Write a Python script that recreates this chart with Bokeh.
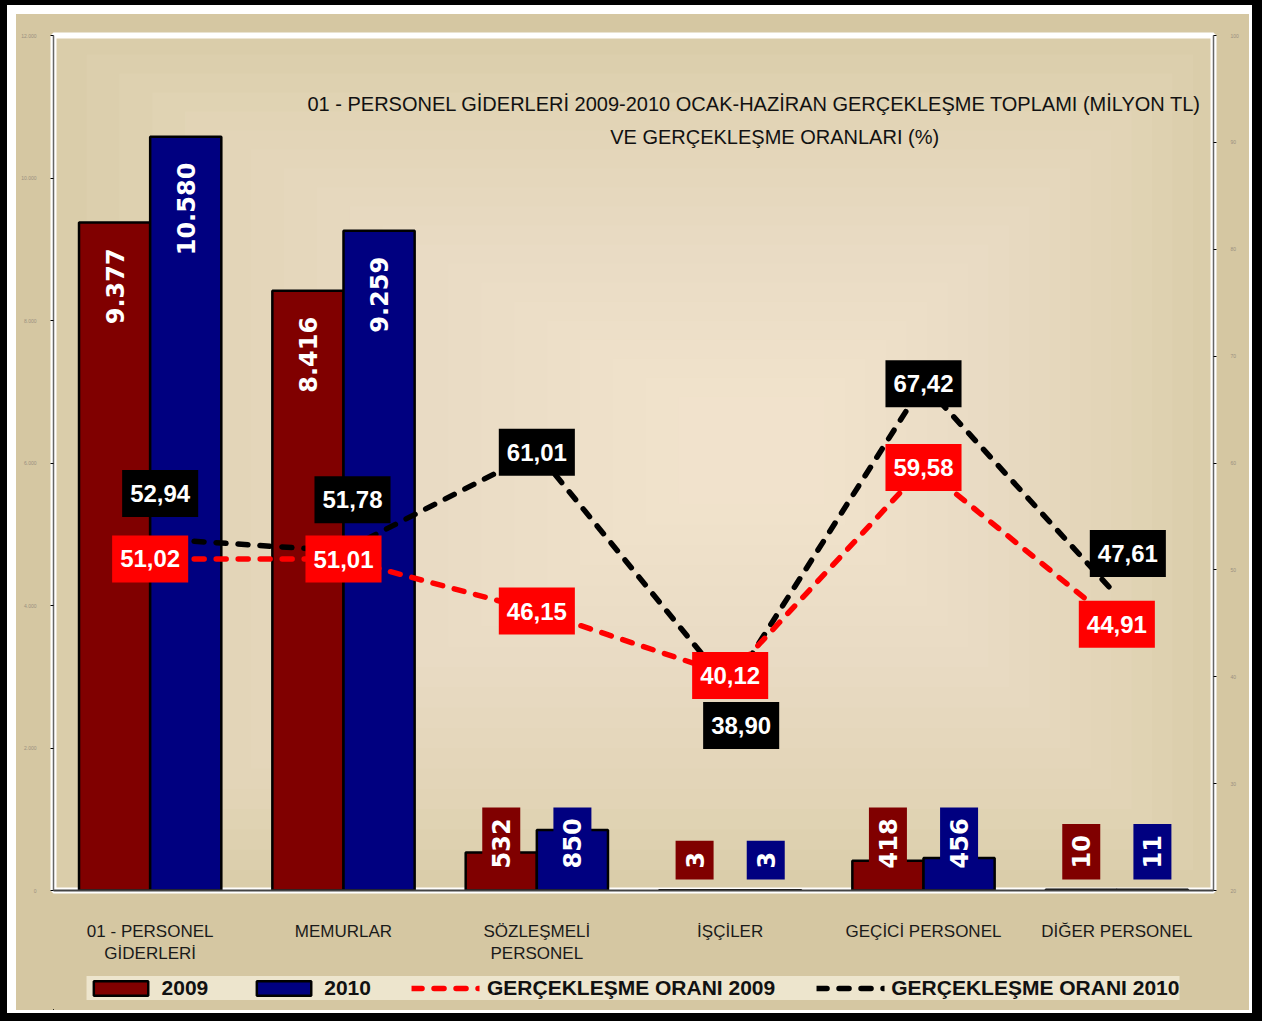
import math
from bokeh.plotting import figure
from bokeh.layouts import column
from bokeh.models import (FactorRange, Range1d, LinearAxis, FixedTicker, ColumnDataSource,
                          Legend, LegendItem, Label, BoxAnnotation)
from bokeh.transform import dodge
from bokeh.core.properties import value
from bokeh.embed import file_html
from bokeh.resources import INLINE

# ---------------- data ----------------
categories = ["01 - PERSONEL\nGİDERLERİ", "MEMURLAR", "SÖZLEŞMELİ\nPERSONEL",
              "İŞÇİLER", "GEÇİCİ PERSONEL", "DİĞER PERSONEL"]
spend_2009 = [9377, 8416, 532, 3, 418, 10]
spend_2010 = [10580, 9259, 850, 3, 456, 11]
rate_2009 = [51.02, 51.01, 46.15, 40.12, 59.58, 44.91]
rate_2010 = [52.94, 51.78, 61.01, 38.90, 67.42, 47.61]
left_ticks = [0, 2000, 4000, 6000, 8000, 10000, 12000]
right_ticks = [20, 30, 40, 50, 60, 70, 80, 90, 100]
series_names = ["2009", "2010", "GERÇEKLEŞME ORANI 2009", "GERÇEKLEŞME ORANI 2010"]
title_lines = ["01 - PERSONEL  GİDERLERİ 2009-2010 OCAK-HAZİRAN GERÇEKLEŞME TOPLAMI (MİLYON TL)",
               "VE GERÇEKLEŞME ORANLARI (%)"]

# ---------------- layout / style constants ----------------
FW, FH = 1160, 855
TOTAL_W = 1233
C09, C10 = "#800000", "#000080"
RED, BLACK = "#ff0000", "#000000"
TAN = "#d5c7a2"
SANS = "Liberation Sans"
HEAVY = "DejaVu Sans"
BAR_W = 0.368
# screen offsets of the 2010 rate labels relative to their points
lab10_dx = [10, 9, 0, 11, 0, 11]
lab10_dy = [-45, -51, 0, 37, 0, -42]
title_pos = [(3.64, 11032), (3.73, 10582)]

def fmt_thousands(v):
    return f"{v:,}".replace(",", ".")

def fmt_rate(v):
    return f"{v:.2f}".replace(".", ",")

p = figure(frame_width=FW, frame_height=FH,
           x_range=FactorRange(*categories, range_padding=0),
           y_range=Range1d(0, 12000),
           output_backend="svg", toolbar_location=None,
           min_border_left=37, min_border_right=36, min_border_top=21, min_border_bottom=76)
p.extra_y_ranges = {"rate": Range1d(20, 100)}

p.background_fill_color = "#d8cba7"
p.border_fill_color = TAN
p.outline_line_color = "white"
p.outline_line_width = 6
p.xgrid.visible = False
p.ygrid.visible = False

# soft radial-like lightening of the plot area
N = 20
cx, cy = 3.7, 6200
for k in range(N):
    f = 1 - 0.92 * k / N
    p.add_layout(BoxAnnotation(left=cx - cx * f, right=cx + (6 - cx) * f,
                               bottom=cy - cy * f, top=cy + (12000 - cy) * f,
                               fill_color="#fff6e2", fill_alpha=0.068,
                               line_alpha=0, level="underlay"))

# ---------------- bars ----------------
bar_style09 = dict(fill_color=C09, line_color="black", line_width=2.5)
bar_style10 = dict(fill_color=C10, line_color="black", line_width=2.5)
src = ColumnDataSource(dict(cat=categories, v09=spend_2009, v10=spend_2010))
p.vbar(x=dodge("cat", -BAR_W / 2, range=p.x_range), top="v09", width=BAR_W,
       source=src, **bar_style09)
p.vbar(x=dodge("cat", BAR_W / 2, range=p.x_range), top="v10", width=BAR_W,
       source=src, **bar_style10)

# bar value labels (rotated)
for vals, shift, col in [(spend_2009, -BAR_W / 2, C09), (spend_2010, BAR_W / 2, C10)]:
    tall = [i for i, v in enumerate(vals) if v >= 2000]
    small = [i for i, v in enumerate(vals) if v < 2000]
    for idx, anchor, yoff in [(tall, "center_right", 15), (small, "center_left", -11)]:
        s = ColumnDataSource(dict(cat=[categories[i] for i in idx],
                                  y=[vals[i] if anchor == "center_right" else 0 for i in idx],
                                  t=[fmt_thousands(vals[i]) for i in idx]))
        p.text(x=dodge("cat", shift, range=p.x_range), y="y", text="t", source=s,
               angle=math.pi / 2, anchor=anchor, y_offset=yoff,
               text_color="white", text_font=value(HEAVY), text_font_style="bold",
               text_font_size="24px", background_fill_color=col,
               padding=dict(left=11, right=11, top=10, bottom=10))

# ---------------- rate lines ----------------
line_style10 = dict(line_color=BLACK, line_width=5.5, line_dash="10 12", line_cap="round")
line_style09 = dict(line_color=RED, line_width=5.5, line_dash="10 12", line_cap="round")
p.line(x=categories, y=rate_2010, y_range_name="rate", **line_style10)
p.line(x=categories, y=rate_2009, y_range_name="rate", **line_style09)

s10 = ColumnDataSource(dict(cat=categories, y=rate_2010, t=[fmt_rate(v) for v in rate_2010],
                            dx=lab10_dx, dy=lab10_dy))
p.text(x="cat", y="y", text="t", source=s10, y_range_name="rate",
       x_offset="dx", y_offset="dy", anchor="center",
       text_color="white", text_font=value(SANS), text_font_style="bold",
       text_font_size="24px", background_fill_color=BLACK,
       padding=dict(left=8, right=8, top=15, bottom=15))
s09 = ColumnDataSource(dict(cat=categories, y=rate_2009, t=[fmt_rate(v) for v in rate_2009]))
p.text(x="cat", y="y", text="t", source=s09, y_range_name="rate", anchor="center",
       text_color="white", text_font=value(SANS), text_font_style="bold",
       text_font_size="24px", background_fill_color=RED,
       padding=dict(left=8, right=8, top=15, bottom=15))

# ---------------- axes ----------------
xa = p.xaxis[0]
xa.major_label_text_font = SANS
xa.major_label_text_font_size = "17px"
xa.major_label_text_color = "#1a1a1a"
xa.major_label_standoff = 31
xa.major_tick_line_color = None
xa.major_tick_out = 0
xa.major_tick_in = 0
xa.axis_line_color = "#444444"
xa.axis_line_width = 2

ya = p.yaxis[0]
ya.ticker = FixedTicker(ticks=left_ticks)
ya.major_label_overrides = {t: fmt_thousands(t) for t in left_ticks}
ya.major_label_text_font_size = "5px"
ya.major_label_text_color = "#9a9080"
ya.major_label_standoff = 14
ya.axis_line_color = "#666666"
ya.axis_line_width = 1.5
ya.major_tick_out = 3
ya.major_tick_in = 0
ya.minor_tick_line_color = None

ra = LinearAxis(y_range_name="rate", ticker=FixedTicker(ticks=right_ticks),
                major_label_text_font_size="5px", major_label_text_color="#9a9080",
                major_label_standoff=14, axis_line_color="#666666", axis_line_width=1.5,
                major_tick_out=3, major_tick_in=0, minor_tick_line_color=None)
p.add_layout(ra, "right")

# ---------------- title ----------------
for line, (xv, yv) in zip(title_lines, title_pos):
    p.add_layout(Label(x=xv, y=yv, text=line, text_align="center", text_baseline="middle",
                       text_font=SANS, text_font_size="20px", text_color="#111111"))

# ---------------- legend strip (separate figure below the chart) ----------------
pl = figure(width=TOTAL_W, height=44, x_range=Range1d(0, 1), y_range=Range1d(0, 1),
            output_backend="svg", toolbar_location=None,
            x_axis_location=None, y_axis_location=None, min_border=0)
pl.outline_line_color = None
pl.background_fill_color = TAN
pl.border_fill_color = TAN
pl.xgrid.visible = False
pl.ygrid.visible = False
# legend-only renderers: their (off-range) points are never visible, only their swatches
offscreen = ColumnDataSource(dict(x=[-5, -4], y=[-5, -5]))
g09 = pl.vbar(x="x", top="y", width=0.1, source=offscreen, **bar_style09)
g10 = pl.vbar(x="x", top="y", width=0.1, source=offscreen, **bar_style10)
g_r09 = pl.line(x="x", y="y", source=offscreen, **line_style09)
g_r10 = pl.line(x="x", y="y", source=offscreen, **line_style10)
legend = Legend(items=[LegendItem(label=series_names[0], renderers=[g09]),
                       LegendItem(label=series_names[1], renderers=[g10]),
                       LegendItem(label=series_names[2], renderers=[g_r09]),
                       LegendItem(label=series_names[3], renderers=[g_r10])],
                orientation="horizontal", location="center",
                glyph_width=68, glyph_height=18, label_standoff=7, spacing=41,
                padding=8, margin=0,
                label_text_font=SANS, label_text_font_size="21px",
                label_text_font_style="bold", label_text_color="#111111",
                background_fill_color="#ede5cd", background_fill_alpha=1,
                border_line_color=None)
pl.add_layout(legend)

layout = column(p, pl, spacing=0)
layout.margin = (14, 0, 0, 16)
layout.styles = {"background-color": TAN,
                 "box-shadow": "-3px -3px 0 6px white, -1.5px -1.5px 0 14.5px black"}

open("out.html", "w").write(file_html(layout, INLINE))
